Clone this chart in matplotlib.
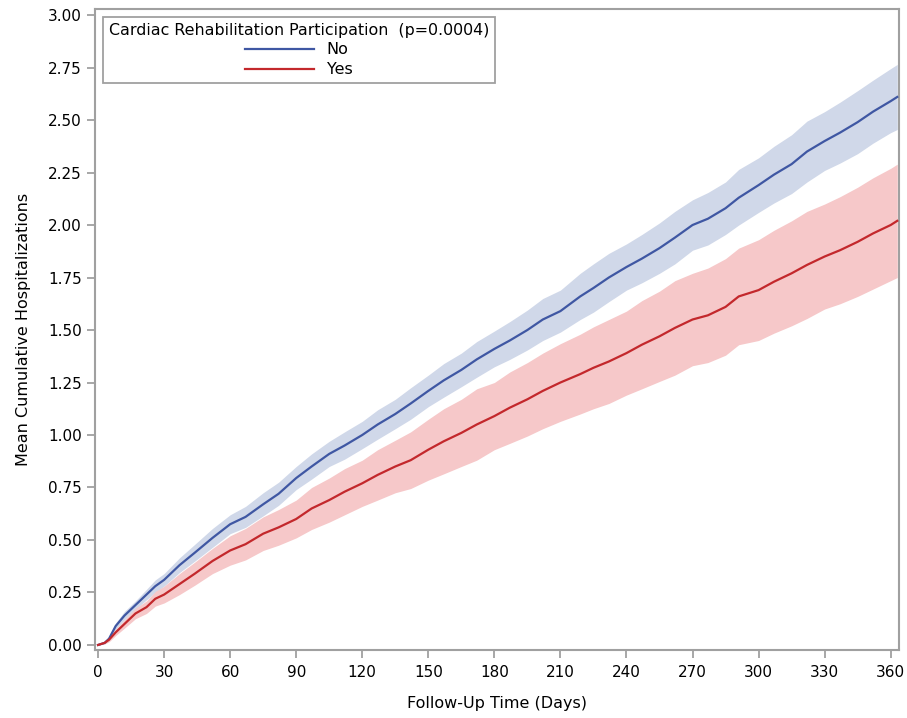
import matplotlib
matplotlib.use("Agg")
import matplotlib.pyplot as plt

# ---- data ----
days = [0, 3, 5, 8, 12, 17, 22, 26, 30, 37, 44, 52, 60, 67, 75, 82, 90, 97, 105, 112, 120,
        127, 135, 142, 150, 157, 165, 172, 180, 187, 195, 202, 210, 219, 225, 232, 240, 247,
        255, 262, 270, 277, 285, 291, 300, 307, 315, 322, 330, 337, 345, 352, 360, 363]

no_mean = [0.00, 0.01, 0.03, 0.09, 0.14, 0.19, 0.24, 0.28, 0.31, 0.38, 0.44, 0.51, 0.575, 0.61, 0.67, 0.72, 0.795, 0.85, 0.91, 0.95, 1.00,
           1.05, 1.10, 1.15, 1.21, 1.26, 1.31, 1.36, 1.41, 1.45, 1.50, 1.55, 1.59, 1.66, 1.70, 1.75, 1.80, 1.84,
           1.89, 1.94, 2.00, 2.03, 2.08, 2.13, 2.19, 2.24, 2.29, 2.35, 2.40, 2.44, 2.49, 2.54, 2.59, 2.61]
no_lower = [0.00, 0.005, 0.02, 0.075, 0.12, 0.17, 0.215, 0.25, 0.28, 0.345, 0.40, 0.465, 0.53, 0.56, 0.615, 0.665, 0.74, 0.79, 0.85, 0.885, 0.935,
            0.98, 1.03, 1.075, 1.135, 1.18, 1.23, 1.275, 1.325, 1.36, 1.405, 1.45, 1.49, 1.55, 1.585, 1.635, 1.69, 1.725,
            1.77, 1.815, 1.88, 1.905, 1.955, 2.00, 2.06, 2.105, 2.15, 2.205, 2.26, 2.295, 2.34, 2.39, 2.44, 2.455]
no_upper = [0.00, 0.015, 0.04, 0.105, 0.16, 0.21, 0.265, 0.31, 0.34, 0.415, 0.48, 0.555, 0.62, 0.66, 0.725, 0.775, 0.85, 0.91, 0.97, 1.015, 1.065,
            1.12, 1.17, 1.225, 1.285, 1.34, 1.39, 1.445, 1.495, 1.54, 1.595, 1.65, 1.69, 1.77, 1.815, 1.865, 1.91, 1.955,
            2.01, 2.065, 2.12, 2.155, 2.205, 2.265, 2.32, 2.375, 2.43, 2.495, 2.54, 2.585, 2.64, 2.69, 2.745, 2.765]

yes_mean = [0.00, 0.01, 0.025, 0.06, 0.10, 0.15, 0.18, 0.22, 0.24, 0.29, 0.34, 0.40, 0.45, 0.48, 0.53, 0.56, 0.60, 0.65, 0.69, 0.73, 0.77,
            0.81, 0.85, 0.88, 0.93, 0.97, 1.01, 1.05, 1.09, 1.13, 1.17, 1.21, 1.25, 1.29, 1.32, 1.35, 1.39, 1.43,
            1.47, 1.51, 1.55, 1.57, 1.61, 1.66, 1.69, 1.73, 1.77, 1.81, 1.85, 1.88, 1.92, 1.96, 2.00, 2.02]
yes_lower = [0.00, 0.005, 0.015, 0.045, 0.08, 0.125, 0.15, 0.185, 0.20, 0.24, 0.285, 0.34, 0.38, 0.405, 0.45, 0.475, 0.51, 0.55, 0.585, 0.62, 0.66,
             0.69, 0.725, 0.745, 0.785, 0.815, 0.85, 0.88, 0.93, 0.96, 0.995, 1.03, 1.065, 1.10, 1.125, 1.15, 1.19, 1.22,
             1.255, 1.285, 1.33, 1.345, 1.38, 1.43, 1.45, 1.485, 1.52, 1.555, 1.60, 1.625, 1.66, 1.695, 1.735, 1.75]
yes_upper = [0.00, 0.015, 0.035, 0.075, 0.12, 0.175, 0.21, 0.255, 0.28, 0.34, 0.395, 0.46, 0.52, 0.555, 0.61, 0.645, 0.69, 0.75, 0.795, 0.84, 0.88,
             0.93, 0.975, 1.015, 1.075, 1.125, 1.17, 1.22, 1.25, 1.30, 1.345, 1.39, 1.435, 1.48, 1.515, 1.55, 1.59, 1.64,
             1.685, 1.735, 1.77, 1.795, 1.84, 1.89, 1.93, 1.975, 2.02, 2.065, 2.10, 2.135, 2.18, 2.225, 2.27, 2.29]

x_ticks = [0, 30, 60, 90, 120, 150, 180, 210, 240, 270, 300, 330, 360]
y_ticks = [0.00, 0.25, 0.50, 0.75, 1.00, 1.25, 1.50, 1.75, 2.00, 2.25, 2.50, 2.75, 3.00]
series_labels = ["No", "Yes"]
legend_title = "Cardiac Rehabilitation Participation  (p=0.0004)"

# ---- style ----
plt.rcParams['font.family'] = ['DejaVu Sans']
blue_line, blue_fill = '#3F57A3', '#D0D8E9'
red_line, red_fill = '#C3282C', '#F6C8C9'
frame = '#A0A0A0'

fig = plt.figure(figsize=(9.07, 7.18), dpi=100)
ax = fig.add_axes([0.1047, 0.0947, 0.8865, 0.8928])

ax.fill_between(days, no_lower, no_upper, color=blue_fill, lw=0, zorder=1)
ax.fill_between(days, yes_lower, yes_upper, color=red_fill, lw=0, zorder=1)
ax.plot(days, no_mean, color=blue_line, lw=1.6, label=series_labels[0], zorder=3)
ax.plot(days, yes_mean, color=red_line, lw=1.6, label=series_labels[1], zorder=3)

ax.set_xlim(-1.4, 363.8)
ax.set_ylim(-0.024, 3.029)
ax.set_xticks(x_ticks)
ax.set_yticks(y_ticks)
ax.set_yticklabels([f"{v:.2f}" for v in y_ticks])
ax.tick_params(axis='both', colors=frame, labelcolor='black', labelsize=11,
               length=6, width=1.3, direction='out')
ax.tick_params(axis='x', pad=5)
for s in ax.spines.values():
    s.set_color(frame)
    s.set_linewidth(1.5)

ax.set_xlabel("Follow-Up Time (Days)", fontsize=11.5, labelpad=11)
ax.set_ylabel("Mean Cumulative Hospitalizations", fontsize=11.5, labelpad=12)

leg = ax.legend(loc='upper left', bbox_to_anchor=(0.00995, 0.9875), borderaxespad=0,
                title=legend_title, title_fontsize=11.4, fontsize=11.5,
                fancybox=False, framealpha=1, edgecolor=frame, handlelength=4.3,
                labelspacing=0.3, borderpad=0.35, handletextpad=0.8)
leg.get_frame().set_linewidth(1.3)

fig.savefig("out.png", dpi=100)
